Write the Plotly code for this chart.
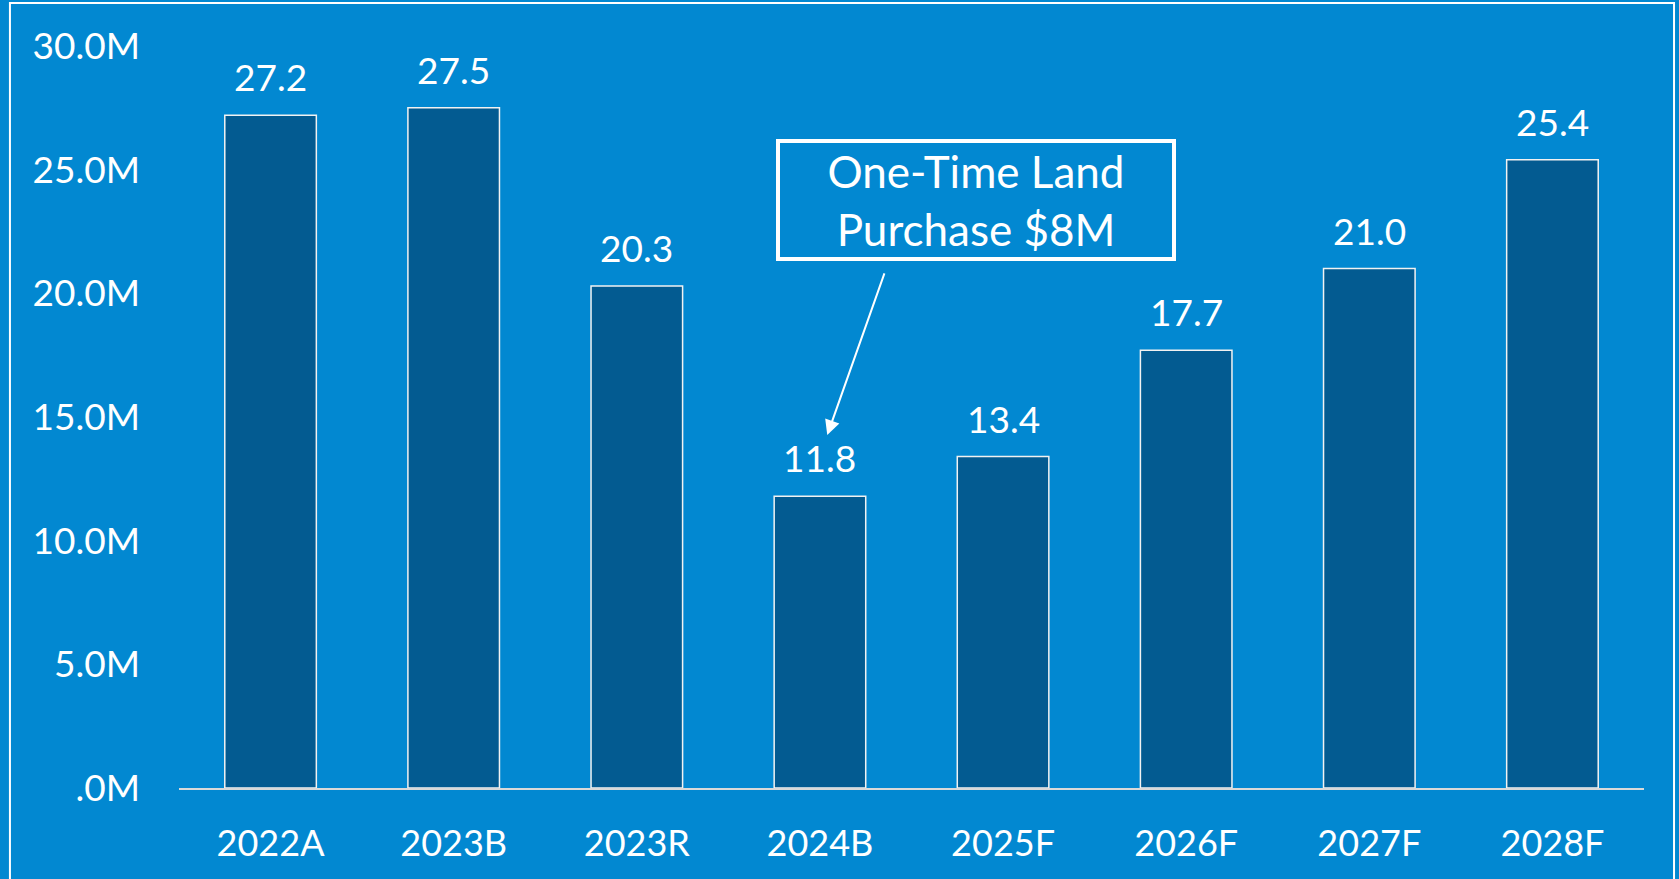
import plotly.graph_objects as go

categories = ["2022A", "2023B", "2023R", "2024B", "2025F", "2026F", "2027F", "2028F"]
values = [27.2, 27.5, 20.3, 11.8, 13.4, 17.7, 21.0, 25.4]
tick_vals = [0, 5, 10, 15, 20, 25, 30]
tick_text = [".0M", "5.0M", "10.0M", "15.0M", "20.0M", "25.0M", "30.0M"]
callout_text = "One-Time Land<br>Purchase $8M"

BG = "#0288D1"
BAR = "#035B91"
FONT = "Lato"

fig = go.Figure()
fig.add_trace(go.Bar(
    x=categories, y=values, width=0.5,
    marker=dict(color=BAR, line=dict(color="#F2F2F2", width=1.5)),
    hoverinfo="skip",
))

annotations = []
for c, v in zip(categories, values):
    annotations.append(dict(
        x=c, y=v, xref="x", yref="y", text=f"{v:.1f}", showarrow=False,
        yanchor="bottom", yshift=14, font=dict(family=FONT, size=37, color="white"),
    ))

# callout box
annotations.append(dict(
    x=3.852, y=23.78, xref="x", yref="y", text=callout_text, showarrow=False,
    font=dict(family=FONT, size=44, color="white"),
    bordercolor="white", borderwidth=4, borderpad=1, width=390, height=112,
    xanchor="center", yanchor="middle",
))
# arrow
annotations.append(dict(
    x=3.04, y=14.27, xref="x", yref="y", ax=3.355, ay=20.87, axref="x", ayref="y",
    text="", showarrow=True, arrowhead=2, arrowsize=1.5, arrowwidth=2,
    arrowcolor="white", standoff=0, startstandoff=0,
))

fig.update_layout(
    width=1679, height=879,
    paper_bgcolor=BG, plot_bgcolor=BG,
    margin=dict(l=179, r=35, t=46, b=91),
    showlegend=False,
    bargap=0.5,
    annotations=annotations,
    shapes=[dict(type="rect", xref="paper", yref="paper",
                 x0=-0.1154, x1=1.0205, y0=-0.2, y1=1.058,
                 line=dict(color="white", width=2), fillcolor="rgba(0,0,0,0)")],
    font=dict(family=FONT, color="white"),
)
fig.update_xaxes(
    showline=True, linecolor="#D9D9D9", linewidth=2, showgrid=False,
    ticks="", tickfont=dict(family=FONT, size=36, color="white"),
    ticklabelstandoff=23, fixedrange=True, automargin=False,
)
fig.update_yaxes(
    range=[0, 30], tickvals=tick_vals, ticktext=tick_text, showgrid=False,
    zeroline=False, showline=False, ticks="",
    tickfont=dict(family=FONT, size=37, color="white"),
    ticklabelstandoff=38, fixedrange=True, automargin=False,
)

fig.write_html(
    "out.html",
    config={"displayModeBar": False},
    post_script="document.body.style.margin='0';document.body.style.overflow='hidden';"
                "document.body.style.background='#0288D1';",
)
